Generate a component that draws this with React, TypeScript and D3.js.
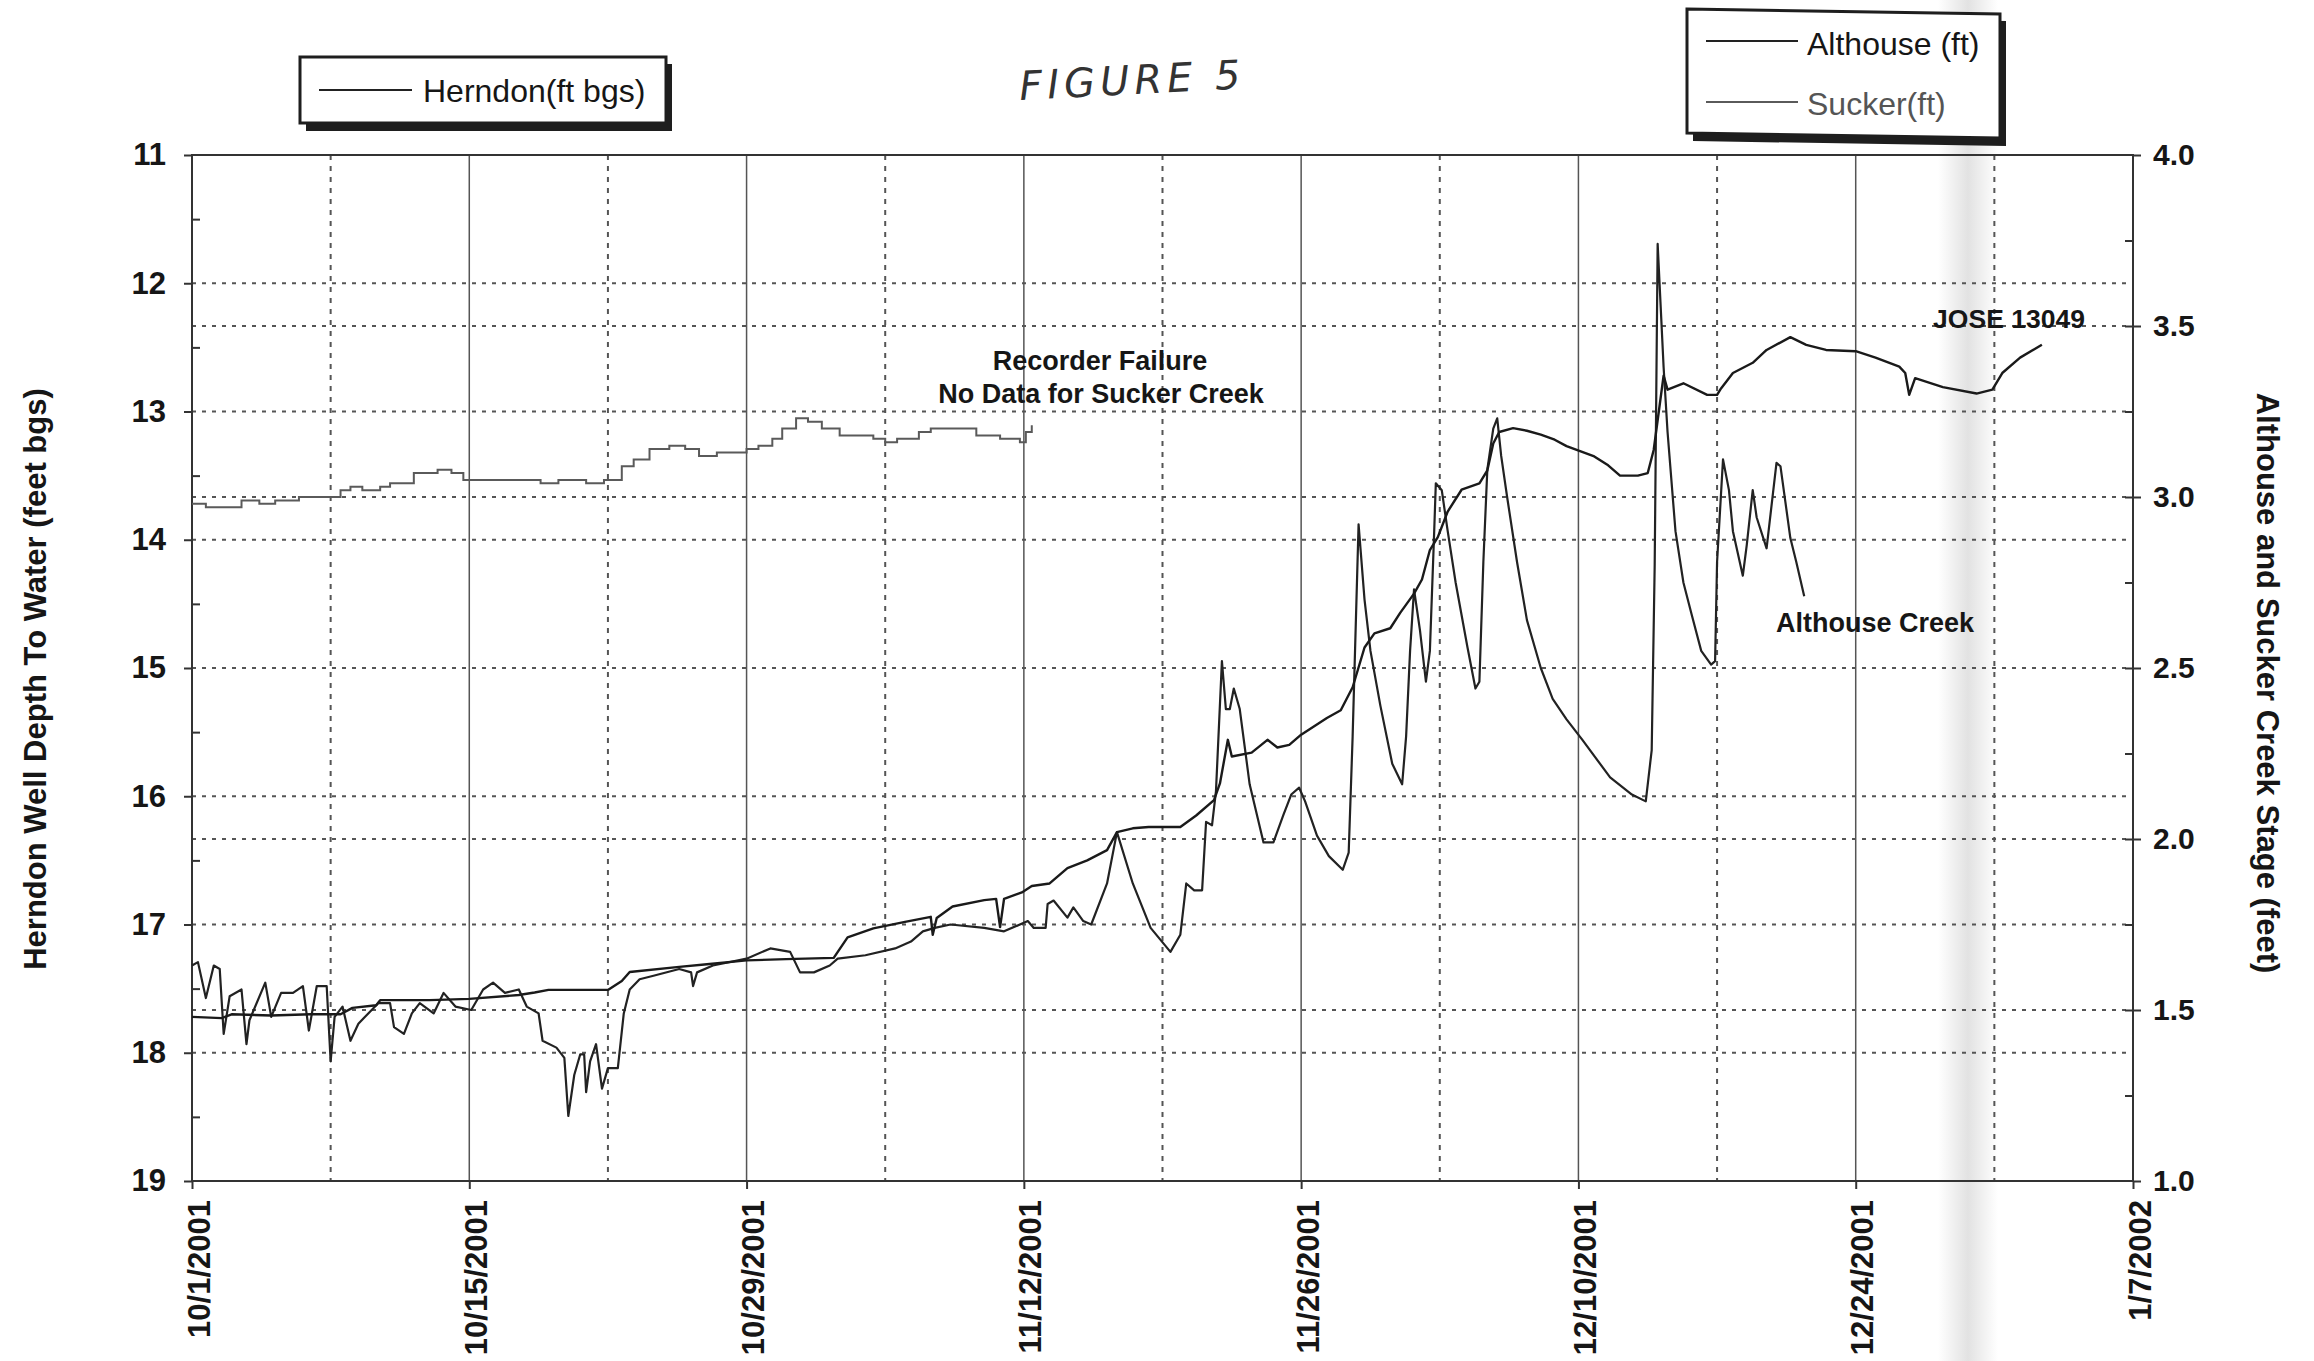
import React, { useEffect, useRef } from 'react';
import * as d3 from 'd3';

// [days after 10/1/2001, value]
type Pt = [number, number];

const dateLabels = ['10/1/2001', '10/15/2001', '10/29/2001', '11/12/2001', '11/26/2001', '12/10/2001', '12/24/2001', '1/7/2002'];
const depthTicks = [11, 12, 13, 14, 15, 16, 17, 18, 19];
const stageTicks = [1.0, 1.5, 2.0, 2.5, 3.0, 3.5, 4.0];

// Herndon well, depth to water (ft bgs), left axis
const herndon: Pt[] = [
  [0, 17.72], [1.5, 17.73], [2, 17.7], [4, 17.71], [6, 17.7], [7.5, 17.7], [8.1, 17.65], [9.3, 17.63],
  [9.5, 17.59], [12, 17.59], [14, 17.58], [16.5, 17.55], [17.3, 17.53], [18, 17.51], [21, 17.51],
  [21.7, 17.44], [22.1, 17.37], [24.6, 17.33], [26, 17.31], [28, 17.28], [30, 17.27], [32.4, 17.26],
  [33.1, 17.1], [34.4, 17.03], [36, 16.98], [37.3, 16.94], [37.4, 17.08], [37.6, 16.95], [38.4, 16.86],
  [40, 16.81], [40.6, 16.8], [40.8, 17.02], [41.0, 16.8], [41.9, 16.75], [42.4, 16.7], [43.3, 16.68],
  [44.2, 16.56], [45.2, 16.5], [46.2, 16.42], [46.7, 16.28], [47.5, 16.25], [48.3, 16.24], [49.9, 16.24],
  [50.7, 16.15], [51.6, 16.03], [51.9, 15.9], [52.3, 15.56], [52.5, 15.69], [53.5, 15.66], [54.3, 15.56],
  [54.8, 15.62], [55.4, 15.6], [56, 15.52], [57.3, 15.39], [58, 15.33], [58.6, 15.15], [59.2, 14.84],
  [59.7, 14.73], [60.5, 14.69], [61, 14.57], [61.7, 14.42], [62.1, 14.31], [62.5, 14.08], [62.9, 13.98],
  [63.4, 13.78], [64.1, 13.61], [65, 13.56], [65.4, 13.46], [65.7, 13.25], [66, 13.16], [66.7, 13.13],
  [67.4, 13.15], [68.1, 13.18], [68.8, 13.22], [69.4, 13.27], [70.8, 13.35], [71.5, 13.42], [72.1, 13.5],
  [73, 13.5], [73.5, 13.48], [73.8, 13.3], [74.3, 12.72], [74.5, 12.83], [75.3, 12.78], [76.5, 12.87],
  [77.0, 12.87], [77.2, 12.82], [77.8, 12.7], [78.8, 12.62], [79.5, 12.52], [80.7, 12.42], [81.5, 12.48],
  [82.5, 12.52], [84, 12.53], [85, 12.58], [86.2, 12.65], [86.5, 12.7], [86.7, 12.87], [87, 12.74],
  [88.4, 12.81], [90.1, 12.86], [90.9, 12.83], [91.4, 12.7], [92.3, 12.58], [93.4, 12.48],
];

// Althouse Creek stage (ft), right axis
const althouse: Pt[] = [
  [0, 1.63], [0.3, 1.64], [0.7, 1.535], [1.1, 1.63], [1.4, 1.62], [1.6, 1.43], [1.9, 1.54], [2.5, 1.56],
  [2.75, 1.4], [2.9, 1.47], [3.7, 1.58], [4.0, 1.48], [4.5, 1.55], [5.1, 1.55], [5.6, 1.57], [5.9, 1.44],
  [6.3, 1.57], [6.8, 1.57], [7.0, 1.35], [7.2, 1.48], [7.6, 1.51], [8.0, 1.41], [8.4, 1.46], [8.9, 1.49],
  [9.4, 1.52], [10.0, 1.52], [10.2, 1.45], [10.7, 1.43], [11.1, 1.49], [11.5, 1.52], [12.2, 1.49],
  [12.7, 1.55], [13.3, 1.51], [14.1, 1.5], [14.7, 1.56], [15.2, 1.58], [15.8, 1.55], [16.5, 1.56],
  [16.9, 1.51], [17.5, 1.49], [17.7, 1.41], [18.4, 1.39], [18.8, 1.36], [19.0, 1.19], [19.3, 1.31],
  [19.6, 1.37], [19.8, 1.37], [19.9, 1.26], [20.1, 1.35], [20.4, 1.4], [20.7, 1.27], [21.0, 1.33],
  [21.5, 1.33], [21.8, 1.49], [22.1, 1.56], [22.6, 1.59], [23.3, 1.6], [24.6, 1.62], [25.2, 1.61],
  [25.3, 1.57], [25.5, 1.61], [26.3, 1.63], [28, 1.65], [29.2, 1.68], [30.2, 1.67], [30.7, 1.61],
  [31.4, 1.61], [32.2, 1.63], [32.6, 1.65], [34.0, 1.66], [35.5, 1.68], [36.3, 1.7], [36.9, 1.73],
  [37.5, 1.74], [38.3, 1.75], [40, 1.74], [41, 1.73], [42.2, 1.76], [42.5, 1.74], [43.1, 1.74],
  [43.2, 1.81], [43.5, 1.82], [44.2, 1.77], [44.5, 1.8], [45.0, 1.76], [45.4, 1.75], [46.2, 1.87],
  [46.7, 2.02], [47.5, 1.87], [48.4, 1.74], [49.4, 1.67], [49.9, 1.72], [50.2, 1.87], [50.6, 1.85],
  [51.0, 1.85], [51.2, 2.05], [51.5, 2.04], [51.7, 2.14], [52.0, 2.52], [52.2, 2.38], [52.4, 2.38],
  [52.6, 2.44], [52.9, 2.38], [53.4, 2.16], [54.1, 1.99], [54.6, 1.99], [55.1, 2.07], [55.5, 2.13],
  [55.9, 2.15], [56.2, 2.11], [56.8, 2.01], [57.4, 1.95], [58.1, 1.91], [58.4, 1.96], [58.6, 2.3],
  [58.9, 2.92], [59.2, 2.7], [59.5, 2.55], [60.0, 2.39], [60.6, 2.22], [61.1, 2.16], [61.3, 2.3],
  [61.5, 2.55], [61.7, 2.73], [62.0, 2.61], [62.3, 2.46], [62.5, 2.55], [62.7, 2.87], [62.8, 3.04],
  [63.1, 3.02], [63.4, 2.9], [63.8, 2.75], [64.4, 2.56], [64.8, 2.44], [65.0, 2.46], [65.2, 2.81],
  [65.4, 3.08], [65.7, 3.2], [65.9, 3.23], [66.1, 3.12], [66.4, 3.0], [66.9, 2.81], [67.4, 2.64],
  [68.1, 2.5], [68.7, 2.41], [69.4, 2.35], [70.2, 2.29], [71.6, 2.18], [72.7, 2.13], [73.4, 2.11],
  [73.7, 2.26], [73.85, 2.8], [74.0, 3.74], [74.3, 3.38], [74.5, 3.19], [74.9, 2.9], [75.3, 2.75],
  [75.7, 2.66], [76.2, 2.55], [76.7, 2.51], [76.9, 2.52], [77.0, 2.81], [77.3, 3.11], [77.6, 3.02],
  [77.8, 2.9], [78.3, 2.77], [78.5, 2.86], [78.8, 3.02], [79.0, 2.94], [79.5, 2.85], [79.7, 2.95],
  [80.0, 3.1], [80.2, 3.09], [80.7, 2.88], [81.0, 2.81], [81.4, 2.71],
];

// Sucker Creek stage (ft), right axis - recorder failed after 11/12
const sucker: Pt[] = [
  [0, 2.98], [0.7, 2.97], [1.7, 2.97], [2.5, 2.99], [3.4, 2.98], [4.2, 2.99], [4.8, 2.99], [5.4, 3.0],
  [6.9, 3.0], [7.5, 3.02], [8.0, 3.03], [8.6, 3.02], [9.5, 3.03], [10.0, 3.04], [10.6, 3.04], [11.2, 3.07],
  [12.4, 3.08], [13.1, 3.07], [13.7, 3.05], [15.5, 3.05], [17.6, 3.04], [18.5, 3.05], [19.9, 3.04],
  [20.8, 3.05], [21.7, 3.09], [22.3, 3.11], [23.1, 3.14], [24.1, 3.15], [24.9, 3.14], [25.6, 3.12],
  [26.5, 3.13], [28.0, 3.14], [28.6, 3.15], [29.3, 3.17], [29.8, 3.2], [30.5, 3.23], [31.1, 3.22],
  [31.8, 3.2], [32.7, 3.18], [34.4, 3.17], [35.0, 3.16], [35.6, 3.17], [36.7, 3.19], [37.3, 3.2],
  [39.3, 3.2], [39.6, 3.18], [40.8, 3.17], [41.8, 3.16], [42.1, 3.19], [42.4, 3.21],
];

const W = 2314;
const H = 1361;
const margin = { top: 155, right: W - 2133, bottom: H - 1181, left: 192 };
const FONT = "'Liberation Sans', Arial, sans-serif";

const parse = d3.utcParse('%m/%d/%Y');
const t0 = parse(dateLabels[0])!.getTime();
const toDate = (d: number) => new Date(t0 + d * 864e5);
const fmt = (d: Date) => `${d.getUTCMonth() + 1}/${d.getUTCDate()}/${d.getUTCFullYear()}`;

export default function App() {
  const ref = useRef<SVGSVGElement>(null);

  useEffect(() => {
    const svg = d3.select(ref.current);
    svg.selectAll('*').remove();

    const ticks = dateLabels.map(s => parse(s)!);
    const x = d3.scaleUtc()
      .domain([ticks[0], ticks[ticks.length - 1]])
      .range([margin.left, W - margin.right]);
    const yL = d3.scaleLinear().domain([11, 19]).range([margin.top, H - margin.bottom]);
    const yR = d3.scaleLinear().domain([1, 4]).range([H - margin.bottom, margin.top]);

    // scanner fold shadow
    const defs = svg.append('defs');
    const grad = defs.append('linearGradient').attr('id', 'fold');
    grad.append('stop').attr('offset', '0%').attr('stop-color', '#fff');
    grad.append('stop').attr('offset', '50%').attr('stop-color', '#e2e2e2');
    grad.append('stop').attr('offset', '100%').attr('stop-color', '#fff');
    svg.append('rect').attr('x', 1938).attr('y', 0).attr('width', 60).attr('height', H).attr('fill', 'url(#fold)');

    // gridlines
    const grid = svg.append('g');
    const weeks = d3.utcMonday.range(d3.utcDay.offset(ticks[0], 1), ticks[ticks.length - 1]);
    const labelled = new Set(ticks.map(d => d.getTime()));
    grid.selectAll('line.v')
      .data(weeks)
      .join('line')
      .attr('x1', d => x(d)).attr('x2', d => x(d))
      .attr('y1', margin.top).attr('y2', H - margin.bottom)
      .attr('stroke', '#555')
      .attr('stroke-width', d => labelled.has(d.getTime()) ? 1.5 : 2)
      .attr('stroke-dasharray', d => labelled.has(d.getTime()) ? null : '5 6');

    const hL = depthTicks.slice(1, -1);
    grid.selectAll('line.hl')
      .data(hL)
      .join('line')
      .attr('x1', margin.left).attr('x2', W - margin.right)
      .attr('y1', d => yL(d)).attr('y2', d => yL(d))
      .attr('stroke', '#555').attr('stroke-width', 2).attr('stroke-dasharray', '4 6');
    const hR = stageTicks.slice(1, -1).filter(v => v !== 2.5);
    grid.selectAll('line.hr')
      .data(hR)
      .join('line')
      .attr('x1', margin.left).attr('x2', W - margin.right)
      .attr('y1', d => yR(d)).attr('y2', d => yR(d))
      .attr('stroke', '#555').attr('stroke-width', 2).attr('stroke-dasharray', '4 6');

    // frame
    svg.append('rect')
      .attr('x', margin.left).attr('y', margin.top)
      .attr('width', W - margin.right - margin.left).attr('height', H - margin.bottom - margin.top)
      .attr('fill', 'none').attr('stroke', '#333').attr('stroke-width', 2);

    // axes
    const styleAxis = (g: any, size: number) => {
      g.select('.domain').remove();
      g.selectAll('line').attr('stroke', '#333').attr('stroke-width', 2);
      g.selectAll('text').attr('font-family', FONT).attr('font-weight', 'bold')
        .attr('font-size', size).attr('fill', '#161616');
    };

    svg.append('g')
      .attr('transform', `translate(${margin.left},0)`)
      .call(d3.axisLeft(yL).tickValues(depthTicks).tickSize(8).tickPadding(18).tickFormat(d3.format('d')) as any)
      .call(g => styleAxis(g, 31));
    svg.append('g')
      .attr('transform', `translate(${margin.left},0)`)
      .call(d3.axisRight(yL).tickValues(d3.range(11.5, 19, 1)).tickSize(8).tickFormat(() => '') as any)
      .call(g => styleAxis(g, 10));

    svg.append('g')
      .attr('transform', `translate(${W - margin.right},0)`)
      .call(d3.axisRight(yR).tickValues(stageTicks).tickSize(8).tickPadding(12).tickFormat(d3.format('.1f')) as any)
      .call(g => styleAxis(g, 30));
    svg.append('g')
      .attr('transform', `translate(${W - margin.right},0)`)
      .call(d3.axisLeft(yR).tickValues(d3.range(1.25, 4, 0.25)).tickSize(8).tickFormat(() => '') as any)
      .call(g => styleAxis(g, 10));

    svg.append('g')
      .attr('transform', `translate(0,${H - margin.bottom})`)
      .call(d3.axisBottom(x).tickValues(ticks).tickSize(8).tickFormat(d => fmt(d as Date)) as any)
      .call(g => {
        styleAxis(g, 31);
        g.selectAll('text')
          .attr('transform', 'rotate(-90)')
          .attr('text-anchor', 'end')
          .attr('x', -19).attr('y', 0).attr('dy', 17);
      });

    // axis titles
    svg.append('text')
      .attr('transform', `translate(46,679) rotate(-90)`)
      .attr('text-anchor', 'middle')
      .attr('font-family', FONT).attr('font-weight', 'bold').attr('font-size', 31).attr('fill', '#161616')
      .text('Herndon Well Depth To Water (feet bgs)');
    svg.append('text')
      .attr('transform', `translate(2257,683) rotate(90)`)
      .attr('text-anchor', 'middle')
      .attr('font-family', FONT).attr('font-weight', 'bold').attr('font-size', 31).attr('fill', '#161616')
      .text('Althouse and Sucker Creek Stage (feet)');

    // series
    const lineL = d3.line<Pt>().x(d => x(toDate(d[0]))).y(d => yL(d[1]));
    const lineR = d3.line<Pt>().x(d => x(toDate(d[0]))).y(d => yR(d[1]));
    const lineStep = d3.line<Pt>().x(d => x(toDate(d[0]))).y(d => yR(d[1])).curve(d3.curveStepAfter);

    svg.append('path').datum(sucker).attr('d', lineStep)
      .attr('fill', 'none').attr('stroke', '#5a5a5a').attr('stroke-width', 2);
    svg.append('path').datum(althouse).attr('d', lineR)
      .attr('fill', 'none').attr('stroke', '#222').attr('stroke-width', 2.2).attr('stroke-linejoin', 'round');
    svg.append('path').datum(herndon).attr('d', lineL)
      .attr('fill', 'none').attr('stroke', '#1a1a1a').attr('stroke-width', 2.4).attr('stroke-linejoin', 'round');

    // annotations
    const note = (tx: number, ty: number, s: string, size: number) =>
      svg.append('text').attr('x', tx).attr('y', ty).attr('text-anchor', 'middle')
        .attr('font-family', FONT).attr('font-weight', 'bold').attr('font-size', size).attr('fill', '#161616')
        .text(s);
    note(1100, 370, 'Recorder Failure', 27);
    note(1101, 403, 'No Data for Sucker Creek', 27);
    note(1875, 632, 'Althouse Creek', 27);
    note(2009, 328, 'JOSE 13049', 26.5);

    svg.append('text')
      .attr('transform', 'translate(1020,100) rotate(-3)')
      .attr('font-family', "'DejaVu Sans', sans-serif").attr('font-style', 'italic').attr('font-weight', 300)
      .attr('font-size', 40).attr('letter-spacing', 5).attr('fill', '#333')
      .text('FIGURE 5');

    // legend: Herndon
    const lg1 = svg.append('g');
    lg1.append('rect').attr('x', 306).attr('y', 64).attr('width', 366).attr('height', 67).attr('fill', '#1e1e1e');
    lg1.append('rect').attr('x', 300).attr('y', 57).attr('width', 366).attr('height', 66)
      .attr('fill', '#fff').attr('stroke', '#1e1e1e').attr('stroke-width', 3);
    lg1.append('line').attr('x1', 319).attr('x2', 412).attr('y1', 90).attr('y2', 90)
      .attr('stroke', '#222').attr('stroke-width', 2);
    lg1.append('text').attr('x', 423).attr('y', 102)
      .attr('font-family', FONT).attr('font-size', 32).attr('fill', '#161616').text('Herndon(ft bgs)');

    // legend: Althouse / Sucker
    const lg2 = svg.append('g');
    lg2.append('polygon').attr('points', '1693,16 2006,21 2006,146 1693,141').attr('fill', '#1e1e1e');
    lg2.append('polygon').attr('points', '1687,9 2000,14 2000,138 1687,133')
      .attr('fill', '#fff').attr('stroke', '#1e1e1e').attr('stroke-width', 3);
    lg2.append('line').attr('x1', 1706).attr('x2', 1798).attr('y1', 41).attr('y2', 41)
      .attr('stroke', '#222').attr('stroke-width', 2);
    lg2.append('text').attr('x', 1807).attr('y', 55)
      .attr('font-family', FONT).attr('font-size', 32).attr('fill', '#161616').text('Althouse (ft)');
    lg2.append('line').attr('x1', 1706).attr('x2', 1798).attr('y1', 102).attr('y2', 102)
      .attr('stroke', '#5a5a5a').attr('stroke-width', 2);
    lg2.append('text').attr('x', 1807).attr('y', 115)
      .attr('font-family', FONT).attr('font-size', 32).attr('fill', '#555').text('Sucker(ft)');
  }, []);

  return (
    <svg ref={ref} width={W} height={H}
      style={{ position: 'absolute', left: 0, top: 0, background: '#fff' }} />
  );
}
